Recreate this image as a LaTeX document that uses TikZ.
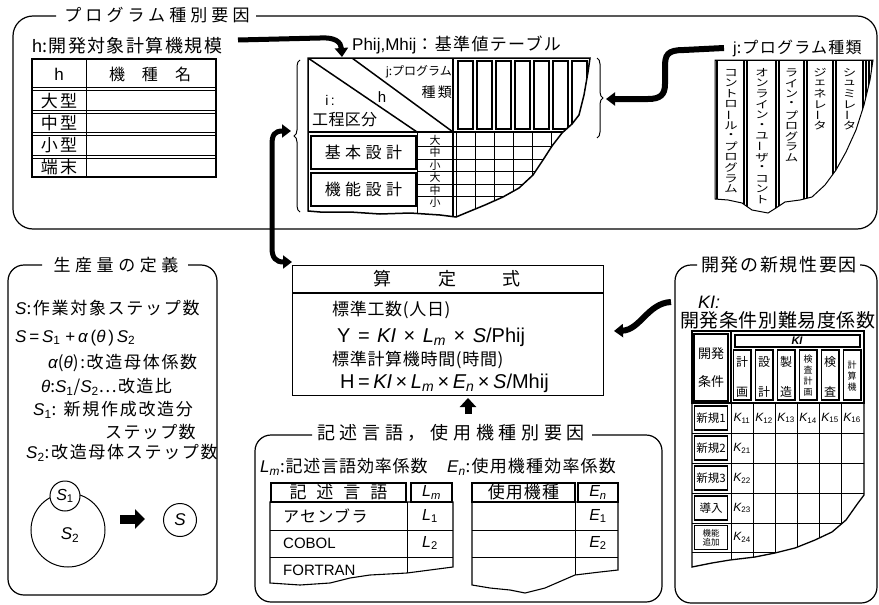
\documentclass[tikz,border=0pt]{standalone}
\usepackage{fontspec}
\setmainfont{Noto Sans CJK JP}
\newfontfamily\lat{Liberation Sans}
\usetikzlibrary{arrows.meta,decorations.pathreplacing}
\newcommand\iv[1]{{\lat\itshape #1}}
\newcommand\sbs[1]{\textsubscript{\lat #1}}
\newcommand\vbr{\rotatebox[origin=c]{90}{ー}}
\newcommand\jgap[1]{\hspace{#1pt}}
\newcommand\vcol[4]{\foreach \ch [count=\ci] in {#4} \node[ctr, ff=10.3] (#1-\ci) at (#2,#3+10.6*\ci) {\scalebox{1.3}[1]{\ch}};}
\tikzset{
  fs/.style 2 args={font=\fontsize{#1}{#1}\selectfont\addfontfeature{LetterSpace=#2}},
  ff/.style={font=\fontsize{#1}{#1}\selectfont},
  lf/.style={font=\fontsize{#1}{#1}\selectfont\lat},
  txt/.style={inner sep=0pt, anchor=west},
  ctr/.style={inner sep=0pt},
  frame/.style={line width=1.2pt, rounded corners=16pt},
  ln/.style={line width=0.9pt},
  hv/.style={line width=1.5pt},
  bigarrow/.style={line width=5pt, -{Triangle[width=13pt,length=9pt]}},
  brc/.style={decorate, decoration={brace, amplitude=6pt}, line width=1pt},
}
\begin{document}
\begin{tikzpicture}[x=1pt,y=-1pt]
\useasboundingbox (0,0) rectangle (879,605);
\fill[white] (0,0) rectangle (879,605);

%================ top frame
\draw[frame, rounded corners=20pt] (56,16) -- (13,16) -- (13,229) -- (877,229) -- (877,16) -- (256,16);
\node[ctr, fs={17}{24}] (ttop) at (157,15) {プログラム種別要因};

%---- h table
\node[txt, fs={18}{8}] (hlab) at (32,46) {{\lat h}:開発対象計算機規模};
\draw[line width=1.2pt] (32,59) rectangle (216,177);
\draw[ln] (86,59) -- (86,177);
\foreach \yy in {89,112,134,157} {\draw[ln] (32,\yy-1.3) -- (216,\yy-1.3); \draw[ln] (32,\yy+1.3) -- (216,\yy+1.3);}
\node[ctr, lf=17] (hh) at (59,74) {h};
\node[ctr, ff=16] (hk) at (150,74) {機\jgap{17}種\jgap{17}名};
\node[ctr, fs={17}{12}] (hr1) at (59,101) {大型};
\node[ctr, fs={17}{12}] (hr2) at (59,123) {中型};
\node[ctr, fs={17}{12}] (hr3) at (59,145) {小型};
\node[ctr, fs={17}{12}] (hr4) at (59,167) {端末};

\coordinate (a1s) at (238,40);
\coordinate (a1e) at (342,57);
\draw[bigarrow] (a1s) -- (320,38) .. controls (335,37) and (341,42) .. (a1e);

%---- centre table
\node[txt, fs={17}{8}] (ptl) at (352,45) {{\lat Phij,Mhij}：基準値テーブル};
\draw[brc] (300,212) -- (300,60);
\begin{scope}
\clip (308,58) -- (590,58) -- (588,72) -- (584,95) -- (579,115) -- (572,124) -- (562,133) -- (552,146) -- (543,160) -- (533,175) -- (519,188) -- (503,197) -- (485,205) -- (468,212) -- (456,217) -- (440,215) -- (410,213) -- (380,214) -- (350,212) -- (320,212) -- (308,211) -- cycle;
\foreach \k in {0,...,7} \draw[ln] (456+19*\k,132) -- (456+19*\k,225);
\foreach \k in {0,...,6} \draw[hv] (458+19*\k,61) rectangle (473+19*\k,129);
\foreach \k in {1,...,5} \draw[ln] (417,134+12.5*\k) -- (600,134+12.5*\k);
\draw[hv] (308,132) -- (600,132);
\draw[hv] (453,58) -- (453,225);
\draw[ln] (417,132) -- (417,225);
\draw[hv] (308,58) -- (417,132);
\draw[hv] (352,58) -- (453,132);
\end{scope}
\draw[hv] (308,58) -- (590,58) -- (588,72) -- (584,95) -- (579,115) -- (572,124) -- (562,133) -- (552,146) -- (543,160) -- (533,175) -- (519,188) -- (503,197) -- (485,205) -- (468,212) -- (456,217) -- (440,215) -- (410,213) -- (380,214) -- (350,212) -- (320,212) -- (308,211) -- cycle;
\node[anchor=east, inner sep=0pt, fs={12}{0}] (tj) at (452,72) {{\lat j}:プログラム};
\node[anchor=east, inner sep=0pt, fs={14}{15}] (tk) at (452,92) {種類};
\node[ctr, lf=15] (th) at (382,97) {h};
\node[ctr, lf=14] (ti) at (330,100) {i\,:};
\node[txt, fs={16}{2}] (tkou) at (312,120) {工程区分};
\node[draw, hv, fill=white, minimum width=105, minimum height=33, fs={16}{28}] (kihon) at (363.5,152.5) {基本設計};
\node[draw, hv, fill=white, minimum width=105, minimum height=33, fs={16}{28}] (kinou) at (363.5,189.5) {機能設計};
\foreach \ch [count=\ci from 0] in {大,中,小,大,中,小} \node[ctr, ff=11] (sz\ci) at (435,140.25+12.5*\ci) {\ch};

%---- program types (top right)
\node[txt, fs={16}{8}] (jlab) at (733,48) {{\lat j}:プログラム種類};
\coordinate (a2e) at (606,99);
\draw[bigarrow, line width=6pt] ([xshift=-9pt]jlab.west) -- (684,50) .. controls (667,50) and (665,55) .. (665,67) -- (665,84) .. controls (665,95) and (660,99) .. (648,99) -- (a2e);
\draw[brc] (597,58) -- (597,138);
\begin{scope}
\clip (715,60) -- (873,60) -- (870,80) -- (864,105) -- (856,130) -- (846,152) -- (836,170) -- (825,185) -- (812,197) -- (800,200) -- (785,202) -- (776,208) -- (768,213) -- (752,210) -- (742,203) -- (728,200) -- (715,199) -- cycle;
\draw[hv] (715,60) -- (875,60);
\foreach \xx in {717,744,747,776,779,804,807,833,836,863,866,869,872} \draw[line width=1.3pt] (\xx,60) -- (\xx,220);
\end{scope}
\draw[line width=1pt] (715,60) -- (873,60) -- (870,80) -- (864,105) -- (856,130) -- (846,152) -- (836,170) -- (825,185) -- (812,197) -- (800,200) -- (785,202) -- (776,208) -- (768,213) -- (752,210) -- (742,203) -- (728,200) -- (715,199) -- cycle;
\vcol{pa}{731}{62}{コ,ン,ト,ロ,\vbr,ル,・,プ,ロ,グ,ラ,ム}
\vcol{pb}{762}{62}{オ,ン,ラ,イ,ン,・,ユ,\vbr,ザ,・,コ,ン,ト}
\vcol{pc}{791.5}{62}{ラ,イ,ン,・,プ,ロ,グ,ラ,ム}
\vcol{pd}{820}{62}{ジ,ェ,ネ,レ,\vbr,タ}
\vcol{pe}{849.5}{62}{シ,ュ,ミ,レ,\vbr,タ}

%================ formula box
\node[draw, line width=1.2pt, minimum width=311, minimum height=130, anchor=north west, inner sep=0pt] (fbox) at (292,265) {};
\draw[line width=1.2pt] (292,293) -- (603,293);
\node[ctr, ff=18] (fttl) at (447,279) {算\jgap{47}定\jgap{47}式};
\node[txt, fs={17}{4}] (fl1) at (332,310) {標準工数(人日)};
\node[txt, lf=20] (fl2) at (337,337) {Y\jgap{7.5}=\jgap{7.5}\iv{KI}\jgap{7.5}×\jgap{7.5}\iv{L}\sbs{\iv{m}}\jgap{7.5}×\jgap{7.5}\iv{S}/Phij};
\node[txt, fs={17}{4}] (fl3) at (332,360) {標準計算機時間(時間)};
\node[txt, lf=20] (fl4) at (340,383) {H\jgap{3.5}=\jgap{3.5}\iv{KI}\jgap{3.5}×\jgap{3.5}\iv{L}\sbs{\iv{m}}\jgap{3.5}×\jgap{3.5}\iv{E}\sbs{\iv{n}}\jgap{3.5}×\jgap{3.5}\iv{S}/Mhij};

\coordinate (a3a) at (291,131);
\coordinate (a3b) at (292,262);
\draw[line width=5pt, {Triangle[width=13pt,length=9pt]}-{Triangle[width=13pt,length=9pt]}] (a3a) -- (283,131) .. controls (274,131) and (272,135) .. (272,145) -- (272,248) .. controls (272,258) and (276,262) .. (a3b);

\coordinate (a4s) at (671,302);
\coordinate (a4e) at (614,331);
\draw[bigarrow, line width=6pt] (a4s) .. controls (648,303) and (640,330) .. (a4e);

\coordinate (a5s) at (468,414);
\coordinate (a5e) at (468,398);
\draw[line width=7pt, -{Triangle[width=16pt,length=9pt]}] (a5s) -- (a5e);

%================ left frame
\draw[frame] (42,265) -- (8,265) -- (8,595) -- (217,595) -- (217,265) -- (188,265);
\node[ctr, fs={17}{27}] (ltitle) at (116,265) {生産量の定義};
\node[txt, fs={17}{10}] (la) at (15,308) {\iv{S}:作業対象ステップ数};
\node[txt, lf=17] (lb) at (15,338) {\iv{S}\,=\,\iv{S}\sbs{1} +\,\iv{α}\,(\iv{θ}\,)\,\iv{S}\sbs{2}};
\node[txt, fs={17}{10}] (lc) at (48,363) {\iv{α}(\iv{θ}):改造母体係数};
\node[txt, fs={17}{8}] (ld) at (41,387) {\iv{θ}:\iv{S}\sbs{1}/\iv{S}\sbs{2}…改造比};
\node[txt, fs={17}{10}] (le) at (33,410) {\iv{S}\sbs{1}: 新規作成改造分};
\node[txt, fs={17}{8}] (lf) at (105,432) {ステップ数};
\node[txt, fs={17}{10}] (lg) at (26,453) {\iv{S}\sbs{2}:改造母体ステップ数};
\node[circle, draw, line width=1pt, minimum size=74] (cs2) at (68,530) {};
\node[circle, draw, fill=white, line width=1pt, minimum size=30, inner sep=0pt, lf=16] (cs1) at (65,496) {\iv{S}\sbs{1}};
\node[ctr, lf=17] (s2t) at (70,535) {\iv{S}\sbs{2}};
\node[circle, draw, line width=1pt, minimum size=33, inner sep=0pt, lf=17] (cs) at (180,520) {\iv{S}};
\coordinate (a6s) at (120,519);
\coordinate (a6e) at (145,519);
\draw[line width=9pt, -{Triangle[width=19pt,length=10pt]}] (a6s) -- (a6e);

%================ right frame
\draw[frame] (697,265) -- (675,265) -- (675,603) -- (877,603) -- (877,265) -- (860,265);
\node[ctr, fs={18}{9}] (rtitle) at (779,265) {開発の新規性要因};
\node[txt, font=\fontsize{18}{18}\selectfont\lat\itshape] (kil) at (698,302) {KI:};
\node[txt, fs={19}{3}] (kidesc) at (680,320) {開発条件別難易度係数};
\begin{scope}
\clip (692,331) -- (864,331) -- (864,495) -- (858,503) -- (846,520) -- (832,532) -- (815,540) -- (795,548) -- (775,553) -- (755,557) -- (730,560) -- (712,563) -- (692,567) -- cycle;
\foreach \yy in {433,463,493,523,552} \draw[ln] (692,\yy) -- (870,\yy);
\foreach \xx in {731,753,775,797,819,841} \draw[ln] (\xx,403) -- (\xx,580);
\end{scope}
\draw[line width=1.3pt] (692,331) -- (864,331) -- (864,495) -- (858,503) -- (846,520) -- (832,532) -- (815,540) -- (795,548) -- (775,553) -- (755,557) -- (730,560) -- (712,563) -- (692,567) -- cycle;
\draw[hv] (692,331) rectangle (864,403);
\draw[hv] (731,331) -- (731,403);
\draw[line width=1.3pt] (735,335) rectangle (860,347);
\node[ctr, font=\fontsize{11}{11}\selectfont\lat\itshape\bfseries] (kib) at (797,341) {KI};
\foreach \xa/\xb in {731/753,753/775,775/797,797/819,819/841,841/863} \draw[hv] (\xa+2.5,350) rectangle (\xb-2,400);
\node[draw, line width=1.3pt, minimum width=34, minimum height=67, align=center, font=\fontsize{13}{28}\selectfont] (kjk) at (711,367.5) {開発\\条件};
\node[ctr, align=center, font=\fontsize{12}{30}\selectfont] (h1) at (742,377) {計\\画};
\node[ctr, align=center, font=\fontsize{12}{30}\selectfont] (h2) at (764,377) {設\\計};
\node[ctr, align=center, font=\fontsize{12}{30}\selectfont] (h3) at (786,377) {製\\造};
\node[ctr, align=center, font=\fontsize{9}{11}\selectfont] (h4) at (808,376) {検\\査\\計\\画};
\node[ctr, align=center, font=\fontsize{12}{30}\selectfont] (h5) at (830,377) {検\\査};
\node[ctr, align=center, font=\fontsize{9}{11}\selectfont] (h6) at (852,376) {計\\算\\機};
\foreach \tt/\yy [count=\ci] in {新規1/418,新規2/448,新規3/478,導入/508} \node[draw, line width=1.3pt, fill=white, minimum width=33, minimum height=24, inner sep=0pt, ff=11.5] (rl\ci) at (711,\yy) {\tt};
\node[draw, line width=1.3pt, fill=white, minimum width=33, minimum height=24, inner sep=0pt, align=center, font=\fontsize{8.5}{9}\selectfont] (rl5) at (711,537.5) {機能\\追加};
\foreach \xx [count=\ci] in {742,764,786,808,830,852} \node[ctr, lf=12] (ka\ci) at (\xx,418) {\iv{K}\sbs{1\ci}};
\foreach \yy [count=\ci] in {448,478,508,537.5} \node[ctr, lf=12] (kb\ci) at (742,\yy) {\iv{K}\sbs{2\ci}};

%================ bottom frame
\draw[frame] (312,435) -- (255,435) -- (255,602) -- (662,602) -- (662,435) -- (592,435);
\node[ctr, fs={18}{26}] (btitle) at (451,433) {記述言語，使用機種別要因};
\node[txt, fs={17}{5}] (lmdesc) at (260,467) {\iv{L}\sbs{\iv{m}}:記述言語効率係数};
\node[txt, fs={17}{7}] (endesc) at (447,467) {\iv{E}\sbs{\iv{n}}:使用機種効率係数};
% left table
\node[draw, line width=1.6pt, minimum width=135, minimum height=19, inner sep=0pt, ff=17] (lhk) at (338.5,492.5) {記\jgap{10}述\jgap{10}言\jgap{10}語};
\node[draw, line width=1.6pt, minimum width=41, minimum height=19, inner sep=0pt, lf=16] (lhl) at (431.5,492.5) {\iv{L}\sbs{\iv{m}}};
\draw[line width=1.1pt] (270,502) -- (453,502) -- (453,567) -- (430,570) -- (407,573) -- (370,575) -- (350,578) -- (330,583) -- (300,585) -- (270,583) -- cycle;
\draw[ln] (270,530) -- (453,530);
\draw[ln] (270,557) -- (453,557);
\draw[ln] (407,502) -- (407,573);
\node[txt, fs={16}{8}] (ta1) at (283,516) {アセンブラ};
\node[txt, lf=15] (ta2) at (283,543) {COBOL};
\node[txt, lf=15] (ta3) at (283,570) {FORTRAN};
\node[ctr, lf=16] (tl1) at (430,516) {\iv{L}\sbs{1}};
\node[ctr, lf=16] (tl2) at (430,543) {\iv{L}\sbs{2}};
% right table
\node[draw, line width=1.6pt, minimum width=103, minimum height=19, inner sep=0pt, fs={17}{6}] (rhk) at (523.5,492.5) {使用機種};
\node[draw, line width=1.6pt, minimum width=40, minimum height=19, inner sep=0pt, lf=16] (rhe) at (598,492.5) {\iv{E}\sbs{\iv{n}}};
\draw[line width=1.1pt] (472,502) -- (618,502) -- (618,570) -- (600,572) -- (575,575) -- (545,588) -- (525,593) -- (510,590) -- (490,588) -- (472,585) -- cycle;
\draw[ln] (472,530) -- (618,530);
\draw[ln] (472,557) -- (618,557);
\draw[ln] (575,502) -- (575,575);
\node[ctr, lf=16] (te1) at (598,516) {\iv{E}\sbs{1}};
\node[ctr, lf=16] (te2) at (598,543) {\iv{E}\sbs{2}};
\end{tikzpicture}
\end{document}
